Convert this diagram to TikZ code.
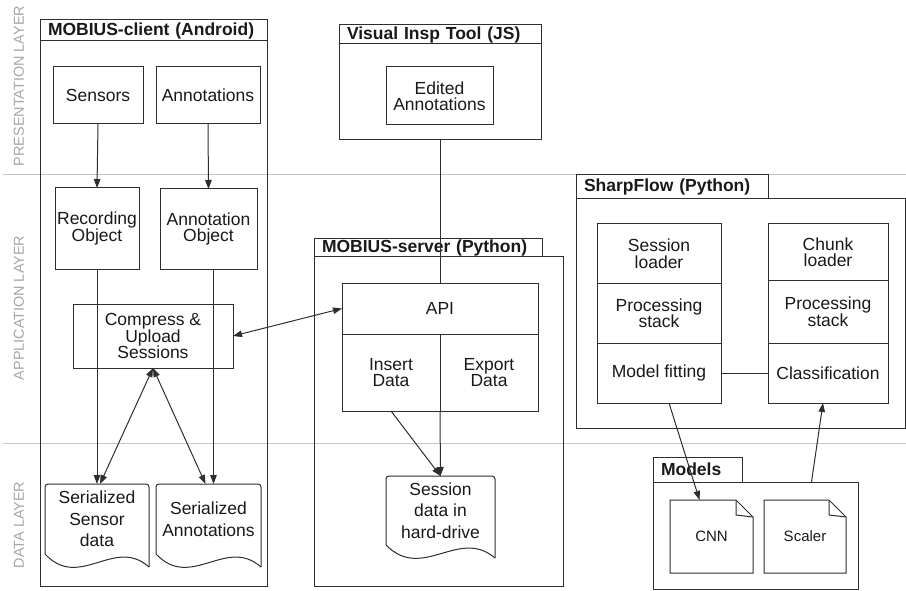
\documentclass[tikz,border=0pt]{standalone}
\usepackage{fontspec}
\setmainfont{Liberation Sans}
\usepackage{xcolor}
\usepackage{tikz}
\usetikzlibrary{positioning, arrows.meta, calc}
\definecolor{linegray}{HTML}{2E2E2E}
\definecolor{layergray}{HTML}{A6A6A6}
\definecolor{rulegray}{HTML}{C6C6C6}

% document with a wavy bottom edge
\newcommand\wavedoc[1]{%
  \draw[edgeline, rounded corners=3pt] (#1.south west) -- (#1.north west) -- (#1.north east) -- ($(#1.south east)+(0,13)$);
  \draw[edgeline] (#1.south west) .. controls ($(#1.south west)!0.333!(#1.south east)+(0,37)$) and ($(#1.south west)!0.667!(#1.south east)+(0,-18)$) .. ($(#1.south east)+(0,13)$);}
% sheet with a folded corner
\newcommand\notedoc[1]{%
  \draw[edgeline] (#1.south west) -- (#1.north west) -- ($(#1.north east)+(-17,0)$) -- ($(#1.north east)+(0,17)$) -- (#1.south east) -- cycle;
  \draw[edgeline] ($(#1.north east)+(-17,0)$) -- ++(0,15) -- ($(#1.north east)+(0,17)$);}

\begin{document}
\begin{tikzpicture}[x=1pt, y=-1pt,
    edgeline/.style={draw=linegray, line width=1pt},
    box/.style={edgeline, align=center, inner sep=2pt, outer sep=0pt, text=black!90, font=\fontsize{17.5pt}{16.5pt}\selectfont},
    docbox/.style={align=center, inner sep=2pt, outer sep=0pt, text=black!90, font=\fontsize{17.5pt}{21.5pt}\selectfont},
    sheet/.style={align=center, inner sep=0pt, outer sep=0pt, minimum width=83pt, minimum height=73pt, text=black!90, font=\fontsize{15pt}{18pt}\selectfont},
    outerbox/.style={edgeline, inner sep=0pt, outer sep=0pt},
    tabbox/.style={edgeline, anchor=south west, align=left, inner xsep=8pt, inner ysep=0pt, outer sep=0pt, text=black!90, font=\fontsize{17.5pt}{20pt}\selectfont\bfseries},
    layerlabel/.style={rotate=90, text=layergray, font=\fontsize{14.4pt}{17pt}\selectfont},
    arr/.style={edgeline, -{Triangle[length=9pt, width=6.5pt]}},
    darr/.style={edgeline, {Triangle[length=9pt, width=6.5pt]}-{Triangle[length=9pt, width=6.5pt]}}]
  \useasboundingbox (0,0) rectangle (906,591);

  % layers
  \draw[rulegray, line width=1pt] (3,175) -- (906,175);
  \draw[rulegray, line width=1pt] (3,443) -- (906,443);
  \node[layerlabel] (presentation) at (19,86) {PRESENTATION LAYER};
  \node[layerlabel] (application) at (19,308) {APPLICATION LAYER};
  \node[layerlabel] (datalayer) at (19,525) {DATA LAYER};

  % client
  \node[outerbox, minimum width=227pt, minimum height=545pt] (client) at (153.5,313.5) {};
  \node[tabbox, text width=211pt, minimum height=21pt] (clienttab) at (client.north west) {MOBIUS-client (Android)};
  \node[box, minimum width=90pt, minimum height=57pt] (sensors) at (98,95.5) {Sensors};
  \node[box, minimum width=104pt, minimum height=57pt] (annots) at (208,95.5) {Annotations};
  \node[box, minimum width=84pt, minimum height=81pt] (recobj) at (97,228.5) {Recording\\Object};
  \node[box, minimum width=97pt, minimum height=80pt] (annobj) at (208.5,229) {Annotation\\Object};
  \node[box, minimum width=160pt, minimum height=64pt] (upload) at (153,336) {Compress \&\\Upload\\Sessions};
  \node[docbox, minimum width=104pt, minimum height=70pt] (sersensor) at (97,519) {Serialized\\Sensor\\data};
  \node[docbox, minimum width=105pt, minimum height=70pt] (serannot) at (208.5,519) {Serialized\\Annotations};
  \wavedoc{sersensor}
  \wavedoc{serannot}

  % inspection tool
  \node[outerbox, minimum width=202pt, minimum height=96pt] (visual) at (440,92) {};
  \node[tabbox, text width=186pt, minimum height=19pt] (visualtab) at (visual.north west) {Visual Insp Tool (JS)};
  \node[box, minimum width=107pt, minimum height=58pt] (editann) at (439.5,96) {Edited\\Annotations};

  % server
  \node[outerbox, minimum width=249pt, minimum height=329pt] (server) at (438.5,421.5) {};
  \node[tabbox, text width=212pt, minimum height=18pt] (servertab) at (server.north west) {MOBIUS-server (Python)};
  \node[box, minimum width=196pt, minimum height=51pt] (api) at (440,308.5) {API};
  \node[box, minimum width=98pt, minimum height=77pt, anchor=north west] (insert) at (api.south west) {Insert\\Data};
  \node[box, minimum width=98pt, minimum height=77pt, right=0pt of insert] (export) {Export\\Data};
  \node[docbox, minimum width=109pt, minimum height=69pt] (sessdata) at (440.5,510.5) {Session\\data in\\hard-drive};
  \wavedoc{sessdata}

  % sharpflow
  \node[outerbox, minimum width=329pt, minimum height=229pt] (sharp) at (740.5,313.5) {};
  \node[tabbox, text width=176pt, minimum height=24pt] (sharptab) at (sharp.north west) {SharpFlow (Python)};
  \node[box, minimum width=124pt, minimum height=59pt] (sessload) at (659,253.5) {Session\\loader};
  \node[box, minimum width=124pt, minimum height=60pt, below=0pt of sessload] (sessproc) {Processing\\stack};
  \node[box, minimum width=124pt, minimum height=60pt, below=0pt of sessproc] (modelfit) {Model fitting};
  \node[box, minimum width=120pt, minimum height=56pt] (chunkload) at (828,252) {Chunk\\loader};
  \node[box, minimum width=120pt, minimum height=63pt, below=0pt of chunkload] (chunkproc) {Processing\\stack};
  \node[box, minimum width=120pt, minimum height=60pt, below=0pt of chunkproc] (classif) {Classification};

  % models
  \node[outerbox, minimum width=205pt, minimum height=107pt] (models) at (755.5,535.5) {};
  \node[tabbox, text width=73pt, minimum height=25pt] (modelstab) at (models.north west) {Models};
  \node[sheet] (cnn) at (711.5,536.5) {CNN};
  \node[sheet, minimum width=82pt] (scaler) at (805,536.5) {Scaler};
  \notedoc{cnn}
  \notedoc{scaler}

  \draw[arr] (sensors.south) -- (recobj.north);
  \draw[arr] (annots.south) -- (annobj.north);
  \draw[arr] (recobj.south) -- (sersensor.north);
  \draw[arr] ([xshift=5pt]annobj.south) -- ([xshift=5pt]serannot.north);
  \draw[darr] (upload.south) -- ([xshift=3pt]sersensor.north);
  \draw[darr] (upload.south) -- ([xshift=-3pt]serannot.north);
  \draw[darr] (upload.east) -- (api.west);
  \draw[edgeline] (visual.south) -- (api.north);
  \draw[arr] (insert.south) -- (sessdata.north);
  \draw[arr] (insert.south east) -- (sessdata.north);
  \draw[edgeline] (modelfit) -- (classif);
  \draw[arr] ([xshift=10pt]modelfit.south) -- ([xshift=-12pt]cnn.north);
  \draw[arr] ([xshift=56pt]models.north) -- ([xshift=-5pt]classif.south);
\end{tikzpicture}
\end{document}
